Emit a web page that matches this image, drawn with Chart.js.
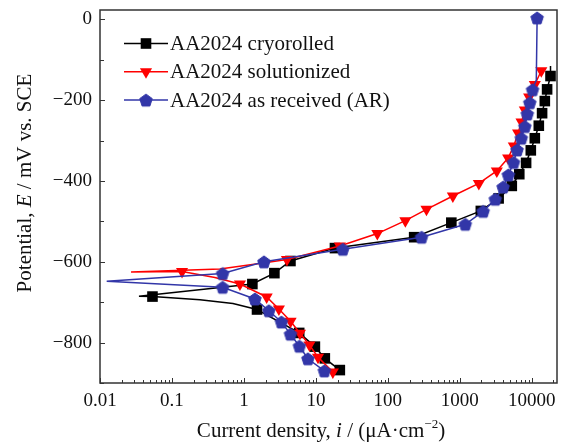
<!DOCTYPE html>
<html><head><meta charset="utf-8">
<script src="https://cdn.jsdelivr.net/npm/chart.js@4.4.1/dist/chart.umd.min.js"></script>
<style>html,body{margin:0;padding:0;background:#fff}#wrap{width:566px;height:444px}</style>
</head><body><div id="wrap"><canvas id="c" width="566" height="444"></canvas></div>
<script>
// ---- data (current density in µA·cm⁻², potential in mV vs. SCE), ordered along each curve ----
const seriesNames = ['AA2024 cryorolled', 'AA2024 solutionized', 'AA2024 as received (AR)'];

const cryoCurrent   = [21.5, 13.3, 9.68, 5.86, 1.52, 0.703, 0.245, 0.0536, 0.0348, 1.31, 2.65, 4.43, 18.4, 232, 762, 1958, 3459, 5272, 6699, 8336, 9687, 11015, 12515, 13904, 15170, 16320, 18197, 18200];
const cryoPotential = [-868, -839, -810, -776, -718, -703, -694, -686, -685, -655, -628, -598, -566, -539, -503, -474, -443, -412, -383, -355, -324, -294, -263, -232, -202, -173, -140, -115];
const cryoLineOnly  = [5, 6, 8, 27];

const solCurrent   = [17.2, 10.7, 8.13, 6.0, 4.45, 3.06, 2.07, 0.88, 0.395, 0.138, 0.027, 0.464, 1.84, 3.96, 21.5, 71.4, 175, 344, 800, 1837, 3266, 4691, 5623, 6450, 7194, 8000, 9186, 11015, 13560];
const solPotential = [-873, -836, -806, -777, -747, -717, -687, -655, -639, -624, -625, -618, -603, -594, -561, -530, -498, -470, -437, -406, -375, -343, -313, -281, -254, -224, -192, -161, -127];
const solLineOnly  = [8, 10, 11, 12];

const arCurrent   = [13.1, 7.74, 5.90, 4.43, 3.32, 2.22, 1.42, 0.506, 0.0124, 0.506, 1.90, 23.7, 294, 1191, 2109, 3110, 3992, 4721, 5577, 6252, 7145, 8000, 8663, 9379, 10230, 11548, 11858];
const arPotential = [-870, -840, -809, -779, -749, -721, -692, -663, -648, -629, -600, -569, -539, -507, -475, -445, -415, -385, -354, -323, -294, -265, -234, -206, -174, -150, 4];
const arLineOnly  = [8, 25];

const xTickValues = [0.01, 0.1, 1, 10, 100, 1000, 10000];
const yTickValues = [0, -200, -400, -600, -800];
const yMinorStep = 100;

// ---- styles ----
const SERIF = "'Liberation Serif', 'Times New Roman', serif";
const BLUE = '#3236a8';

function pentagonImage(color, r) {
  const s = Math.ceil(r * 2 + 2);
  const cv = document.createElement('canvas');
  cv.width = s; cv.height = s;
  const g = cv.getContext('2d');
  g.beginPath();
  for (let k = 0; k < 5; k++) {
    const a = -Math.PI / 2 + k * 2 * Math.PI / 5;
    const px = s / 2 + r * Math.cos(a), py = s / 2 + r * Math.sin(a) + 0.6;
    k ? g.lineTo(px, py) : g.moveTo(px, py);
  }
  g.closePath();
  g.fillStyle = color; g.fill();
  g.strokeStyle = color; g.lineWidth = 1; g.stroke();
  return cv;
}
const pentagon = pentagonImage(BLUE, 6.6);

function toPoints(xs, ys) { return xs.map((x, i) => ({ x: x, y: ys[i] })); }
function radiusFn(lineOnly, r) { return ctx => lineOnly.includes(ctx.dataIndex) ? 0 : r; }

const datasets = [
  { label: seriesNames[0], data: toPoints(cryoCurrent, cryoPotential), borderColor: '#000', backgroundColor: '#000',
    pointStyle: 'rect', pointRadius: radiusFn(cryoLineOnly, 7.5), order: 2 },
  { label: seriesNames[1], data: toPoints(solCurrent, solPotential), borderColor: '#ff0000', backgroundColor: '#ff0000',
    pointStyle: 'triangle', pointRotation: 180, pointRadius: radiusFn(solLineOnly, 7), order: 1 },
  { label: seriesNames[2], data: toPoints(arCurrent, arPotential), borderColor: BLUE, backgroundColor: BLUE,
    pointStyle: pentagon, pointRadius: radiusFn(arLineOnly, 6.6), order: 0 }
].map(d => Object.assign({ showLine: true, borderWidth: 1.5, tension: 0, pointBorderWidth: 0, clip: false }, d));

const frameTicksPlugin = {
  id: 'frameTicks',
  afterDatasetsDraw(chart) {
    const { ctx, chartArea: a, scales } = chart;
    ctx.save();
    ctx.strokeStyle = '#333';
    ctx.lineWidth = 1.5;
    ctx.strokeRect(a.left, a.top, a.right - a.left, a.bottom - a.top);
    ctx.lineWidth = 1;
    ctx.beginPath();
    const ys = scales.y;
    for (let v = -900; v <= ys.max; v += yMinorStep) {
      const py = Math.round(ys.getPixelForValue(v)) + 0.5;
      const len = yTickValues.includes(v) ? 5 : 4;
      ctx.moveTo(a.left, py); ctx.lineTo(a.left + len, py);
    }
    const xs = scales.x;
    for (let e = -2; e <= 4; e++) {
      for (let k = 1; k <= 9; k++) {
        const v = k * Math.pow(10, e);
        if (v < xs.min || v > xs.max) continue;
        const px = Math.round(xs.getPixelForValue(v)) + 0.5;
        const len = k === 1 ? 5 : 3;
        ctx.moveTo(px, a.bottom); ctx.lineTo(px, a.bottom - len);
      }
    }
    ctx.stroke();
    ctx.restore();
  }
};

function drawRuns(ctx, runs, x, y, align) {
  let total = 0;
  runs.forEach(r => { ctx.font = r.font; r.w = ctx.measureText(r.t).width; total += r.w; });
  let cx = align === 'center' ? x - total / 2 : x;
  runs.forEach(r => { ctx.font = r.font; ctx.fillText(r.t, cx, y + (r.dy || 0)); cx += r.w; });
}

const titlesLegendPlugin = {
  id: 'titlesLegend',
  afterDraw(chart) {
    const { ctx } = chart;
    const N = `21px ${SERIF}`, I = `italic 21px ${SERIF}`, S = `13px ${SERIF}`;
    ctx.save();
    ctx.fillStyle = '#111';
    ctx.textBaseline = 'middle';
    ctx.textAlign = 'left';
    drawRuns(ctx, [
      { t: 'Current density, ', font: N }, { t: 'i', font: I }, { t: ' / (μA·cm', font: N },
      { t: '−2', font: S, dy: -6 }, { t: ')', font: N }
    ], 321, 431, 'center');
    ctx.save();
    ctx.translate(25, 183);
    ctx.rotate(-Math.PI / 2);
    drawRuns(ctx, [{ t: 'Potential, ', font: N }, { t: 'E', font: I }, { t: ' / mV vs. SCE', font: N }], 0, 0, 'center');
    ctx.restore();
    chart.data.datasets.forEach((d, i) => {
      const y = 43.5 + i * 28.3;
      ctx.strokeStyle = d.borderColor; ctx.lineWidth = 1.5;
      ctx.beginPath(); ctx.moveTo(124, y); ctx.lineTo(168, y); ctx.stroke();
      ctx.fillStyle = d.backgroundColor;
      const r = i === 0 ? 7.5 : (i === 1 ? 7 : 6.6);
      Chart.helpers.drawPoint(ctx, { pointStyle: d.pointStyle, rotation: d.pointRotation || 0, radius: r, borderWidth: 0 }, 146, y);
      ctx.fillStyle = '#111';
      ctx.font = N;
      ctx.fillText(d.label, 170, y + 1);
    });
    ctx.restore();
  }
};

new Chart(document.getElementById('c'), {
  type: 'scatter',
  data: { datasets },
  plugins: [frameTicksPlugin, titlesLegendPlugin],
  options: {
    responsive: false, animation: false, devicePixelRatio: 1,
    layout: { padding: { left: 0, top: 10, right: 9, bottom: 0 } },
    plugins: { legend: { display: false }, tooltip: { enabled: false } },
    scales: {
      x: {
        type: 'logarithmic', position: 'bottom', min: 0.01, max: 22400,
        afterBuildTicks: s => { s.ticks = xTickValues.map(v => ({ value: v, major: true })); },
        afterFit: s => { s.height = 61; s.paddingLeft = 0; s.paddingRight = 0; },
        grid: { display: false, drawTicks: false }, border: { display: false },
        ticks: { autoSkip: false, maxRotation: 0, padding: 7, color: '#111', font: { family: SERIF, size: 19 },
                 callback: v => String(v) }
      },
      y: {
        type: 'linear', min: -900, max: 23.5,
        afterBuildTicks: s => { s.ticks = yTickValues.map(v => ({ value: v })); },
        afterFit: s => { s.width = 100; s.paddingTop = 0; s.paddingBottom = 0; },
        grid: { display: false, drawTicks: false }, border: { display: false },
        ticks: { padding: 8, color: '#111', font: { family: SERIF, size: 19 },
                 callback: v => v < 0 ? '−' + Math.abs(v) : String(v) }
      }
    }
  }
});
</script>
</body></html>
